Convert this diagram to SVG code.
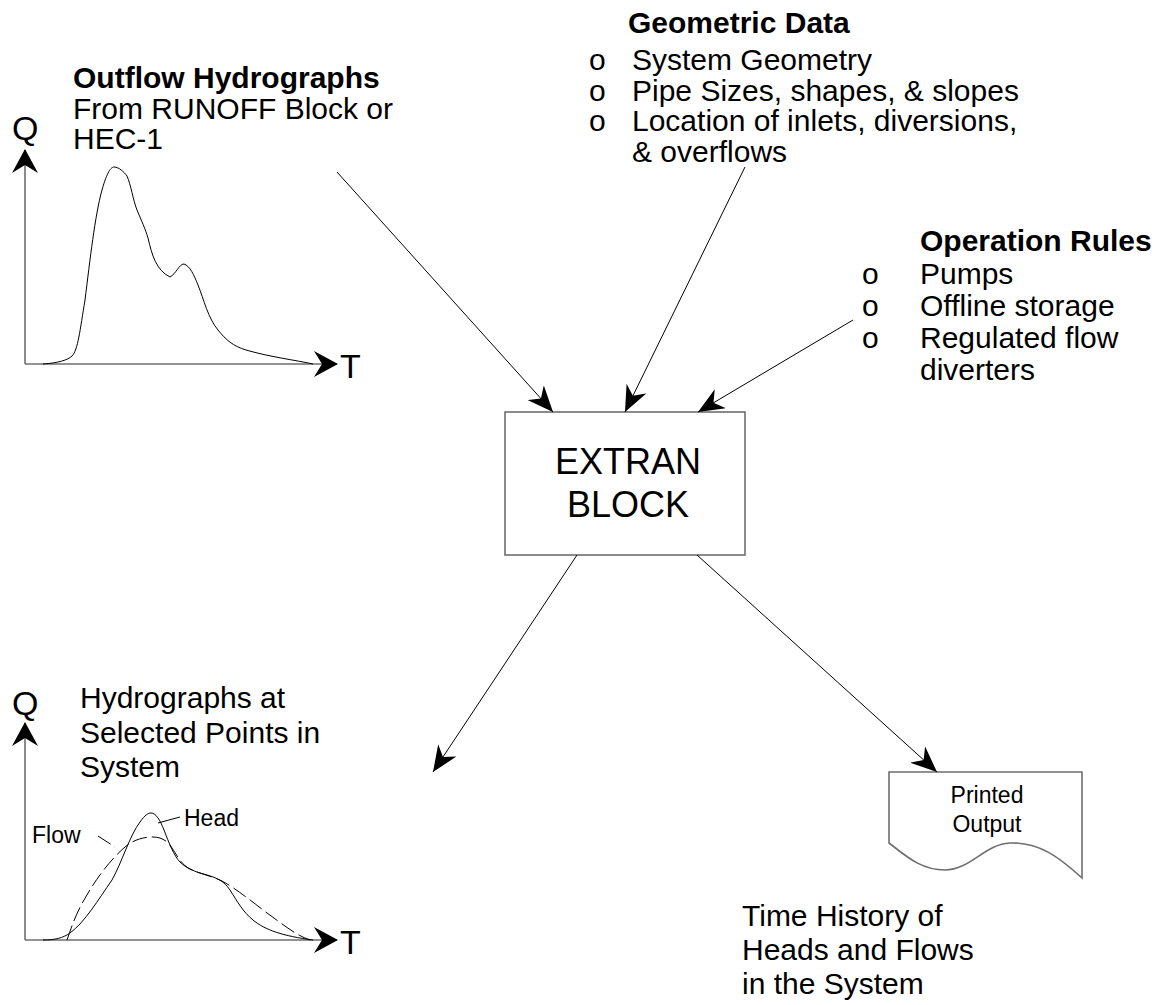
<svg xmlns="http://www.w3.org/2000/svg" width="1157" height="1005" viewBox="0 0 1157 1005">
<style>
text{font-family:"Liberation Sans",Arial,sans-serif;fill:#000}
.t30{font-size:30px}
.b30{font-size:30px;font-weight:bold}
.t23{font-size:23px}
.ax{font-size:34px}
.big{font-size:36px}
.box{fill:#fff;stroke:#6e6e6e;stroke-width:1.6}
.axis{fill:none;stroke:#6e6e6e;stroke-width:1.6;marker-end:url(#axarrow)}
.curve{fill:none;stroke:#000;stroke-width:1}
.dash{fill:none;stroke:#000;stroke-width:1;stroke-dasharray:15 5}
.conn{fill:none;stroke:#000;stroke-width:1;marker-end:url(#arrow)}
</style>
<defs>
<marker id="arrow" viewBox="0 0 26 22" refX="26" refY="11" markerWidth="26" markerHeight="22" markerUnits="userSpaceOnUse" orient="auto">
<path d="M0,0 L26,11 L0,22 L8,11 z" fill="#000"/>
</marker>
<marker id="axarrow" viewBox="0 0 24 26" refX="23" refY="13" markerWidth="24" markerHeight="26" markerUnits="userSpaceOnUse" orient="auto">
<path d="M0,0 L24,13 L0,26 L8,13 z" fill="#000"/>
</marker>
</defs>

<g id="outflow-hydrographs">
<text class="b30" x="73" y="88">Outflow Hydrographs</text>
<text class="t30" x="73" y="119">From RUNOFF Block or</text>
<text class="t30" x="73" y="149">HEC-1</text>
<text class="ax" x="12" y="140">Q</text>
<text class="ax" x="340" y="378">T</text>
<path class="axis" d="M25,364 L25,150"/>
<path class="axis" d="M25,364 L337,364"/>
<path class="curve" d="M43,364 C58,363 68,360 72,356 C78,350 80,330 85,300 C90,260 95,215 102,190 C107,172 111,167 114,167 C119,167 124,172 127,176 C131,185 133,200 137,210 C142,222 145,228 148,238 C152,255 156,270 170,277 C176,274 179,264 184,264 C190,266 194,275 198,285 C204,300 208,318 218,330 C226,340 233,346 246,350 C270,357 295,360 313,364"/>
</g>

<g id="geometric-data">
<text class="b30" x="628" y="33">Geometric Data</text>
<text class="t30" x="589" y="70">o</text>
<text class="t30" x="632" y="70">System Geometry</text>
<text class="t30" x="589" y="100.5">o</text>
<text class="t30" x="632" y="100.5">Pipe Sizes, shapes, &amp; slopes</text>
<text class="t30" x="589" y="131">o</text>
<text class="t30" x="632" y="131">Location of inlets, diversions,</text>
<text class="t30" x="632" y="161.5">&amp; overflows</text>
</g>

<g id="operation-rules">
<text class="b30" x="920" y="251">Operation Rules</text>
<text class="t30" x="862" y="284">o</text>
<text class="t30" x="920" y="284">Pumps</text>
<text class="t30" x="862" y="316">o</text>
<text class="t30" x="920" y="316">Offline storage</text>
<text class="t30" x="862" y="348">o</text>
<text class="t30" x="920" y="348">Regulated flow</text>
<text class="t30" x="920" y="380">diverters</text>
</g>

<g id="extran-block">
<rect class="box" x="505" y="412" width="240" height="143"/>
<text class="big" x="628" y="474" text-anchor="middle">EXTRAN</text>
<text class="big" x="628" y="517" text-anchor="middle">BLOCK</text>
</g>

<g id="selected-hydrographs">
<text class="t30" x="80" y="708">Hydrographs at</text>
<text class="t30" x="80" y="743">Selected Points in</text>
<text class="t30" x="80" y="777">System</text>
<text class="ax" x="12" y="715">Q</text>
<text class="ax" x="340" y="954">T</text>
<path class="axis" d="M25,940 L25,723"/>
<path class="axis" d="M25,940 L337,940"/>
<path class="curve" d="M43,940 C55,940 63,938 70,933 C85,922 98,900 112,880 C122,862 130,835 140,822 C145,815 148,813 151,813 C156,813 160,820 164,830 C169,843 174,856 180,862 C186,868 195,872 207,875 C217,878 224,881 230,890 C237,901 243,912 253,920 C265,930 283,936 313,940"/>
<path class="dash" d="M67,940 C72,925 77,912 84,900 C95,880 110,860 125,847 C133,840 143,837 153,837 C160,837 166,840 170,845 C176,853 180,864 190,869 C200,874 212,876 222,881 C235,888 250,900 267,913 C280,922 295,935 310,940"/>
<path class="curve" d="M180,817 L158,823"/>
<path class="dash" d="M98,836 L115,847"/>
<text class="t23" x="184" y="826">Head</text>
<text class="t23" x="32" y="843">Flow</text>
</g>

<g id="printed-output">
<path class="box" d="M889,772 L1082,772 L1082,878 C1060,858 1040,842 1010,843 C985,844 970,870 945,870 C920,870 905,855 889,843 Z"/>
<text class="t23" x="987" y="803" text-anchor="middle">Printed</text>
<text class="t23" x="987" y="832" text-anchor="middle">Output</text>
</g>

<g id="time-history">
<text class="t30" x="742" y="926">Time History of</text>
<text class="t30" x="742" y="960">Heads and Flows</text>
<text class="t30" x="742" y="994">in the System</text>
</g>

<g id="connectors">
<path class="conn" d="M337,172 L553,412"/>
<path class="conn" d="M745,167 L625,412"/>
<path class="conn" d="M853,320 L698,412"/>
<path class="conn" d="M577,555 L433,772"/>
<path class="conn" d="M697,555 L937,772"/>
</g>
</svg>
